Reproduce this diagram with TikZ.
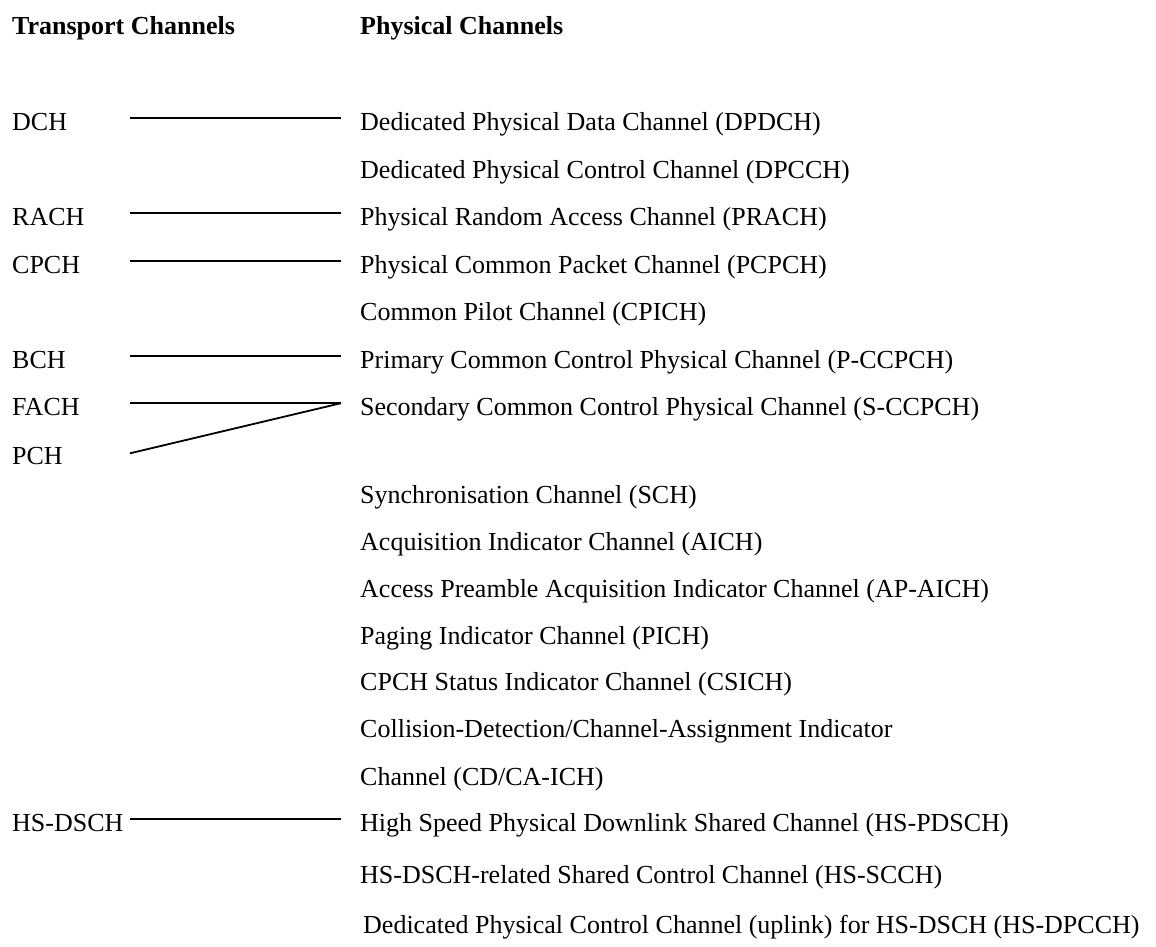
\documentclass[tikz,border=0pt]{standalone}
\usepackage{fontspec}
\setmainfont{Liberation Serif}
\usetikzlibrary{calc}
\begin{document}
\begin{tikzpicture}[x=1pt,y=1pt,
  lbl/.style={anchor=base west,inner sep=0pt,font=\fontsize{26}{30}\selectfont},
  hdr/.style={lbl,font=\fontsize{26}{30}\selectfont\bfseries},
  link/.style={line width=1.8pt}]
\useasboundingbox (0,0) rectangle (1156,-947);

% column headings
\node[hdr] (th) at (12,-34.3) {Transport Channels};
\node[hdr] (ph) at (360,-34.3) {Physical Channels};

% transport channels
\node[lbl] (dch)    at (12,-130.7) {DCH};
\node[lbl] (rach)   at (12,-225.5) {RACH};
\node[lbl] (cpch)   at (12,-273.3) {CPCH};
\node[lbl] (bch)    at (12,-368.3) {BCH};
\node[lbl] (fach)   at (12,-415.5) {FACH};
\node[lbl] (pch)    at (12,-464.3) {PCH};
\node[lbl] (hsdsch) at (12,-831.5) {HS-DSCH};

% physical channels
\node[lbl] (dpdch)   at (360,-130.7) {Dedicated Physical Data Channel (DPDCH)};
\node[lbl] (dpcch)   at (360,-178.3) {Dedicated Physical Control Channel (DPCCH)};
\node[lbl] (prach)   at (360,-225.5) {Physical Random Access Channel (PRACH)};
\node[lbl] (pcpch)   at (360,-273.3) {Physical Common Packet Channel (PCPCH)};
\node[lbl] (cpich)   at (360,-320.8) {Common Pilot Channel (CPICH)};
\node[lbl] (pccpch)  at (360,-368.3) {Primary Common Control Physical Channel (P-CCPCH)};
\node[lbl] (sccpch)  at (360,-415.5) {Secondary Common Control Physical Channel (S-CCPCH)};
\node[lbl] (sch)     at (360,-503.5) {Synchronisation Channel (SCH)};
\node[lbl] (aich)    at (360,-550.5) {Acquisition Indicator Channel (AICH)};
\node[lbl] (apaich)  at (360,-597.5) {Access Preamble Acquisition Indicator Channel (AP-AICH)};
\node[lbl] (pich)    at (360,-644.5) {Paging Indicator Channel (PICH)};
\node[lbl] (csich)   at (360,-690.5) {CPCH Status Indicator Channel (CSICH)};
\node[lbl] (cdca1)   at (360,-737.5) {Collision-Detection/Channel-Assignment Indicator};
\node[lbl] (cdca2)   at (360,-785.5) {Channel (CD/CA-ICH)};
\node[lbl] (hspdsch) at (360,-831.5) {High Speed Physical Downlink Shared Channel (HS-PDSCH)};
\node[lbl] (hsscch)  at (360,-883.5) {HS-DSCH-related Shared Control Channel (HS-SCCH)};
\node[lbl] (hsdpcch) at (363,-933) {Dedicated Physical Control Channel (uplink) for HS-DSCH (HS-DPCCH)};

% mappings transport -> physical
\draw[link] ($(dch.base west)+(118,12.3)$)    -- ($(dpdch.base west)+(-19,12.3)$);
\draw[link] ($(rach.base west)+(118,12.3)$)   -- ($(prach.base west)+(-19,12.3)$);
\draw[link] ($(cpch.base west)+(118,12.3)$)   -- ($(pcpch.base west)+(-19,12.3)$);
\draw[link] ($(bch.base west)+(118,12.3)$)    -- ($(pccpch.base west)+(-19,12.3)$);
\draw[link] ($(fach.base west)+(118,12.3)$)   -- ($(sccpch.base west)+(-19,12.3)$);
\draw[link] ($(pch.base west)+(118,11)$)      -- ($(sccpch.base west)+(-19,12.3)$);
\draw[link] ($(hsdsch.base west)+(118,12.3)$) -- ($(hspdsch.base west)+(-19,12.3)$);
\end{tikzpicture}
\end{document}
